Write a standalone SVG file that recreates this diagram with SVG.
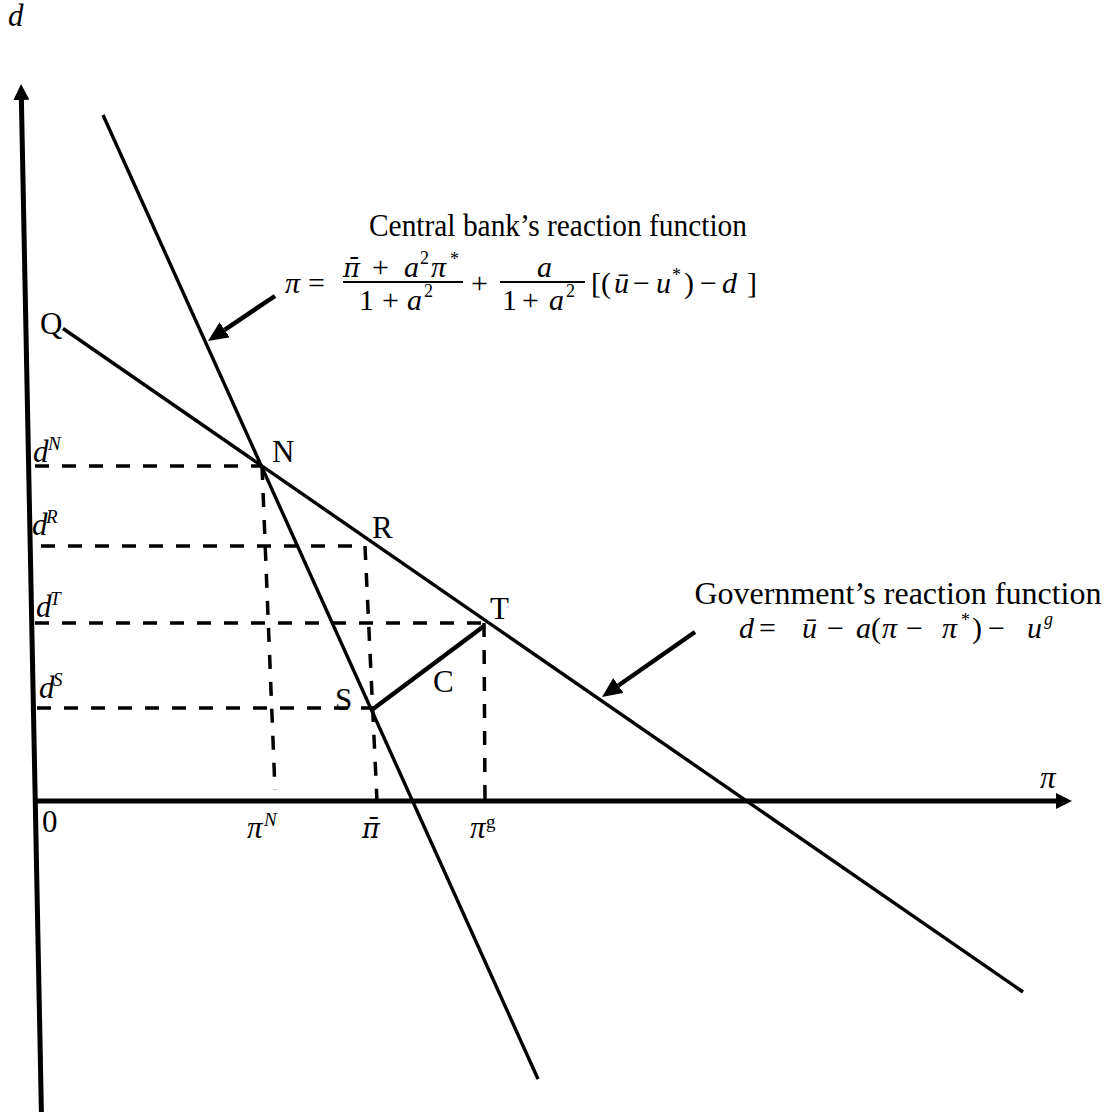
<svg xmlns="http://www.w3.org/2000/svg" width="1116" height="1112" viewBox="0 0 1116 1112">
<style>
.t{font-family:"Liberation Serif","Times New Roman",serif;font-size:31px;fill:#000}
.i{font-style:italic}
.sup{font-size:19px;font-style:italic}
.m{font-family:"Liberation Serif","Times New Roman",serif;font-size:30px;fill:#000}
.ms{font-size:18px}
.pb{font-family:"DejaVu Serif",serif;font-style:italic}
.ax{stroke:#000;stroke-width:5;fill:none}
.ln{stroke:#000;stroke-width:3.4;fill:none}
.th{stroke:#000;stroke-width:4.5;fill:none}
.ds{stroke:#000;stroke-width:3.5;fill:none;stroke-dasharray:14 13}
.bar{stroke:#000;stroke-width:2}
</style>
<defs>
<marker id="axh" viewBox="0 0 16 16" refX="0" refY="8" markerWidth="16" markerHeight="16" markerUnits="userSpaceOnUse" orient="auto"><path d="M0,0 L16,8 L0,16 z" fill="#000"/></marker>
<marker id="arh" viewBox="0 0 20 18" refX="0" refY="9" markerWidth="20" markerHeight="18" markerUnits="userSpaceOnUse" orient="auto"><path d="M0,0 L20,9 L0,18 z" fill="#000"/></marker>
</defs>
<rect width="1116" height="1112" fill="#fff"/>

<g id="connectors">
  <line id="y-axis" class="ax" x1="41.4" y1="1112" x2="21.4" y2="100" marker-end="url(#axh)"/>
  <line id="x-axis" class="ax" x1="35" y1="801" x2="1056" y2="801" marker-end="url(#axh)"/>
  <line id="cb-line" class="ln" x1="103" y1="115" x2="538" y2="1079"/>
  <line id="gov-line" class="ln" x1="63" y1="328.5" x2="1023" y2="992"/>
  <line id="dash-dN" class="ds" x1="35" y1="466" x2="262" y2="466"/>
  <line id="dash-piN" class="ds" x1="262" y1="466" x2="275" y2="790"/>
  <line id="dash-dR" class="ds" x1="41" y1="546" x2="365" y2="546"/>
  <line id="dash-pibar" class="ds" x1="365" y1="546" x2="377" y2="801"/>
  <line id="dash-dT" class="ds" x1="35" y1="623" x2="484" y2="623"/>
  <line id="dash-pig" class="ds" x1="484" y1="623" x2="485" y2="801"/>
  <line id="dash-dS" class="ds" x1="37" y1="708" x2="373" y2="708"/>
  <line id="ST" class="th" x1="373" y1="709" x2="484" y2="626"/>
  <line id="cb-arrow" class="th" x1="275" y1="296" x2="224.6" y2="329.8" marker-end="url(#arh)"/>
  <line id="gov-arrow" class="th" x1="695" y1="632" x2="618.4" y2="685.5" marker-end="url(#arh)"/>
</g>

<g id="axis-labels">
  <text class="t i" x="8" y="26">d</text>
  <text class="t i" x="1040" y="788">π</text>
  <text class="t" x="42" y="832">0</text>
  <text class="t i" x="247" y="838">π<tspan class="sup" x="264" y="826">N</tspan></text>
  <text class="t" x="362" y="838"><tspan class="pb" style="font-size:27px">π̄</tspan></text>
  <text class="t i" x="470" y="838">π<tspan class="sup" x="486" y="828" style="font-style:normal">g</tspan></text>
  <text class="t i" x="33" y="462">d<tspan class="sup" x="48" y="450">N</tspan></text>
  <text class="t i" x="32" y="535">d<tspan class="sup" x="46" y="523">R</tspan></text>
  <text class="t i" x="36" y="617">d<tspan class="sup" x="50" y="605">T</tspan></text>
  <text class="t i" x="39" y="698">d<tspan class="sup" x="53" y="686">S</tspan></text>
</g>

<g id="node-Q"><text class="t" x="40" y="334">Q</text></g>
<g id="node-N"><text class="t" x="272" y="462">N</text></g>
<g id="node-R"><text class="t" x="372" y="538">R</text></g>
<g id="node-T"><text class="t" x="490" y="619">T</text></g>
<g id="node-C"><text class="t" x="433" y="692">C</text></g>
<g id="node-S"><text class="t" x="335" y="710">S</text></g>

<g id="cb-label">
  <text class="t" x="558" y="236" text-anchor="middle" textLength="378" lengthAdjust="spacingAndGlyphs">Central bank’s reaction function</text>
  <text class="m"><tspan class="i" x="285" y="293">π</tspan><tspan x="308" y="293">=</tspan></text>
  <text class="m"><tspan class="pb" x="343" y="277" style="font-size:26px">π̄</tspan><tspan x="372" y="277">+</tspan><tspan class="i" x="404" y="277">a</tspan><tspan class="ms" x="420" y="264">2</tspan><tspan class="i" x="431" y="277">π</tspan><tspan class="ms" x="450" y="265">*</tspan></text>
  <line class="bar" x1="343" y1="282" x2="463" y2="282"/>
  <text class="m"><tspan x="359" y="310">1</tspan><tspan x="382" y="310">+</tspan><tspan class="i" x="407" y="310">a</tspan><tspan class="ms" x="424" y="297">2</tspan></text>
  <text class="m"><tspan x="471" y="293">+</tspan></text>
  <text class="m"><tspan class="i" x="537" y="277">a</tspan></text>
  <line class="bar" x1="500" y1="282" x2="585" y2="282"/>
  <text class="m"><tspan x="502" y="310">1</tspan><tspan x="522" y="310">+</tspan><tspan class="i" x="549" y="310">a</tspan><tspan class="ms" x="566" y="297">2</tspan></text>
  <text class="m"><tspan x="591" y="293">[(</tspan><tspan class="i" x="614" y="293">ū</tspan><tspan x="633" y="293">−</tspan><tspan class="i" x="656" y="293">u</tspan><tspan class="ms" x="672" y="281">*</tspan><tspan x="684" y="293">)</tspan><tspan x="700" y="293">−</tspan><tspan class="i" x="722" y="293">d</tspan><tspan x="747" y="293">]</tspan></text>
</g>

<g id="gov-label">
  <text class="t" x="898" y="604" text-anchor="middle" textLength="407" lengthAdjust="spacingAndGlyphs">Government’s reaction function</text>
  <text class="m"><tspan class="i" x="739" y="638">d</tspan><tspan x="759" y="638">=</tspan><tspan class="i" x="802" y="638">ū</tspan><tspan x="827" y="638">−</tspan><tspan class="i" x="856" y="638">a</tspan><tspan x="871" y="638">(</tspan><tspan class="i" x="882" y="638">π</tspan><tspan x="906" y="638">−</tspan><tspan class="i" x="942" y="638">π</tspan><tspan class="ms" x="961" y="626">*</tspan><tspan x="972" y="638">)</tspan><tspan x="988" y="638">−</tspan><tspan class="i" x="1027" y="638">u</tspan><tspan class="ms i" x="1044" y="625">g</tspan></text>
</g>
</svg>
